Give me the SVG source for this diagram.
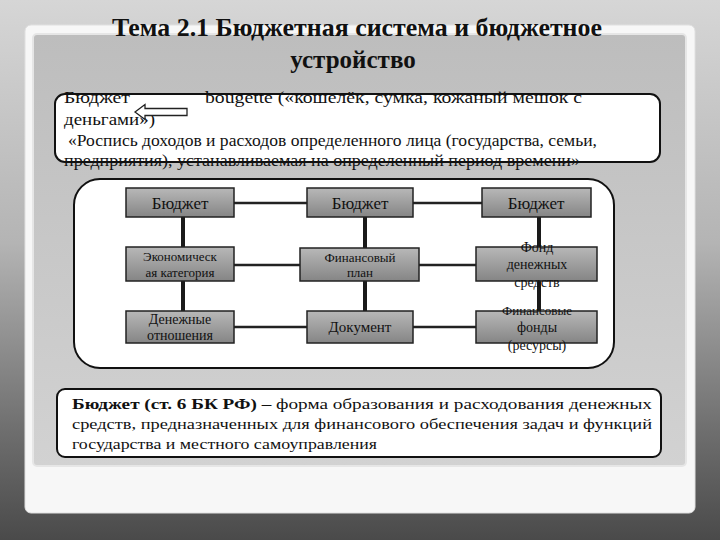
<svg xmlns="http://www.w3.org/2000/svg" width="720" height="540" viewBox="0 0 720 540">
<defs>
<linearGradient id="bg" x1="0" y1="0" x2="0" y2="1">
<stop offset="0" stop-color="#d6d6d6"/>
<stop offset="0.45" stop-color="#b4b4b4"/>
<stop offset="0.8" stop-color="#6e6e6e"/>
<stop offset="1" stop-color="#4a4a4a"/>
</linearGradient>
<linearGradient id="panel" x1="0" y1="0" x2="0" y2="1">
<stop offset="0" stop-color="#bdbdbd"/>
<stop offset="1" stop-color="#d2d2d2"/>
</linearGradient>
<linearGradient id="node" x1="0" y1="0" x2="0" y2="1">
<stop offset="0" stop-color="#b8b8b8"/>
<stop offset="1" stop-color="#858585"/>
</linearGradient>
<style>
text{font-family:"Liberation Serif","DejaVu Serif",serif;fill:#111}
.title{font-size:25px;font-weight:bold;text-anchor:middle}
.def{font-size:16px}
.box{fill:#fff;stroke:#111;stroke-width:2}
.node rect{fill:url(#node);stroke:#222;stroke-width:1.5}
.node text{text-anchor:middle}
.h{stroke:#222;stroke-width:2.5;fill:none}
.v{stroke:#1a1a1a;stroke-width:4;fill:none}
.b{font-size:15.5px}
</style>
</defs>
<rect width="720" height="540" fill="url(#bg)"/>
<g id="frame">
<rect x="25" y="25" width="670" height="488" rx="6" fill="#f7f7f7" stroke="#e0e0e0"/>
<rect x="33" y="34" width="653" height="432" rx="4" fill="url(#panel)" stroke="#e6e6e6" stroke-width="2"/>
</g>
<g id="title">
<text class="title" x="357" y="36" textLength="490" lengthAdjust="spacingAndGlyphs">Тема 2.1 Бюджетная система и бюджетное</text>
<text class="title" x="353" y="68">устройство</text>
</g>
<g id="definition1">
<rect class="box" x="55" y="94" width="605" height="68" rx="10"/>
<text class="def" x="64" y="103" textLength="66" lengthAdjust="spacingAndGlyphs">Бюджет</text>
<text class="def" x="205" y="103" textLength="377" lengthAdjust="spacingAndGlyphs">bougette («кошелёк, сумка, кожаный мешок с</text>
<text class="def" x="64" y="125" textLength="91" lengthAdjust="spacingAndGlyphs">деньгами»)</text>
<text class="def" x="68" y="146" textLength="529" lengthAdjust="spacingAndGlyphs">«Роспись доходов и расходов определенного лица (государства, семьи,</text>
<text class="def" x="64" y="166" textLength="516" lengthAdjust="spacingAndGlyphs">предприятия), устанавливаемая на определенный период времени»</text>
<path d="M135,112 L145,104.5 L145,108.5 L187,108.5 L187,115.5 L145,115.5 L145,119.5 Z" fill="#fff" stroke="#222" stroke-width="1.3"/>
</g>
<g id="container">
<rect class="box" x="74" y="179" width="540" height="189" rx="26"/>
</g>
<g id="connectors">
<path class="h" d="M234,203 H307 M413,203 H482 M234,265 H300 M419,265 H476 M234,327 H307 M413,327 H476"/>
<path class="v" d="M183,217 V247 M183,281 V311 M365,217 V248 M365,281 V311 M539,217 V247 M539,281 V311"/>
</g>
<g id="n1" class="node"><rect x="126" y="188" width="108" height="29"/><text x="180" y="209" font-size="17">Бюджет</text></g>
<g id="n2" class="node"><rect x="307" y="188" width="106" height="29"/><text x="360" y="209" font-size="17">Бюджет</text></g>
<g id="n3" class="node"><rect x="482" y="188" width="109" height="29"/><text x="536" y="209" font-size="17">Бюджет</text></g>
<g id="n4" class="node"><rect x="126" y="247" width="108" height="34"/><text x="180" y="261" font-size="13">Экономическ</text><text x="180" y="277" font-size="13">ая категория</text></g>
<g id="n5" class="node"><rect x="300" y="248" width="119" height="33"/><text x="360" y="262" font-size="13">Финансовый</text><text x="360" y="277" font-size="13">план</text></g>
<g id="n6" class="node"><rect x="476" y="247" width="121" height="34"/><text x="537" y="252" font-size="14">Фонд</text><text x="537" y="269" font-size="14">денежных</text><text x="537" y="287" font-size="14">средств</text></g>
<g id="n7" class="node"><rect x="126" y="311" width="108" height="32"/><text x="180" y="324" font-size="14">Денежные</text><text x="180" y="340" font-size="14">отношения</text></g>
<g id="n8" class="node"><rect x="307" y="311" width="106" height="32"/><text x="360" y="332" font-size="15">Документ</text></g>
<g id="n9" class="node"><rect x="476" y="311" width="121" height="32"/><text x="537" y="315" font-size="13">Финансовые</text><text x="537" y="332" font-size="14">фонды</text><text x="537" y="350" font-size="14">(ресурсы)</text></g>
<g id="definition2">
<rect class="box" x="57" y="389" width="604" height="68" rx="8"/>
<text class="b" x="72" y="409" textLength="580" lengthAdjust="spacingAndGlyphs"><tspan font-weight="bold">Бюджет (ст. 6 БК РФ) –</tspan> форма образования и расходования денежных</text>
<text class="b" x="72" y="429" textLength="580" lengthAdjust="spacingAndGlyphs">средств, предназначенных для финансового обеспечения задач и функций</text>
<text class="b" x="72" y="449" textLength="305" lengthAdjust="spacingAndGlyphs">государства и местного самоуправления</text>
</g>
</svg>
